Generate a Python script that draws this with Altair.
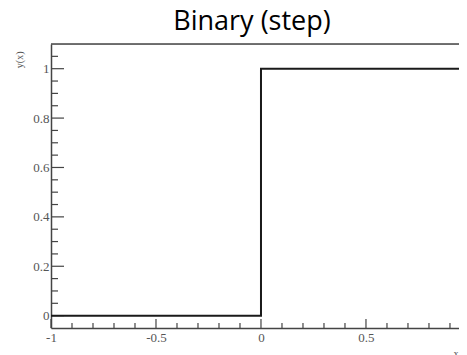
import altair as alt
import pandas as pd

# step function data
step_x = [-1.0, 0.0, 1.0]
step_y = [0.0, 1.0, 1.0]

# tick values
x_major = [-1.0, -0.5, 0.0, 0.5]
x_minor = [-0.9, -0.8, -0.7, -0.6, -0.4, -0.3, -0.2, -0.1,
           0.1, 0.2, 0.3, 0.4, 0.6, 0.7, 0.8, 0.9]
y_major = [0.0, 0.2, 0.4, 0.6, 0.8, 1.0]
y_minor = [0.05, 0.1, 0.15, 0.25, 0.3, 0.35, 0.45, 0.5, 0.55, 0.65, 0.7, 0.75,
           0.85, 0.9, 0.95, 1.05]

x_domain = [-1.0, 0.943]
y_domain = [-0.05, 1.1]

W, H = 408, 284
AX = "#444444"
LBL = "#555555"

xscale = alt.Scale(domain=x_domain, nice=False, zero=False)
yscale = alt.Scale(domain=y_domain, nice=False, zero=False)

label_expr = "'' + datum.value"

step_df = pd.DataFrame({"x": step_x, "y": step_y})

line = alt.Chart(step_df).mark_line(
    interpolate="step-after", color="#1a1a1a", strokeWidth=2, clip=True
).encode(
    x=alt.X("x:Q", scale=xscale,
            axis=alt.Axis(values=x_major, ticks=False, grid=False, domain=True,
                          domainColor=AX, domainWidth=1.5, labelExpr=label_expr,
                          labelFont="Liberation Serif", labelFontSize=13,
                          labelColor=LBL, labelPadding=3, labelFlush=False,
                          title="x", titleFont="Liberation Serif", titleFontSize=10,
                          titleFontWeight="normal", titleColor=LBL,
                          titleAnchor="end", titleAlign="right",
                          titleX=W - 1, titleY=28, titleBaseline="alphabetic")),
    y=alt.Y("y:Q", scale=yscale,
            axis=alt.Axis(values=y_major, ticks=False, grid=False, domain=True,
                          domainColor=AX, domainWidth=1.5, labelExpr=label_expr,
                          labelFont="Liberation Serif", labelFontSize=13,
                          labelColor=LBL, labelPadding=2, labelFlush=False,
                          title="y(x)", titleFont="Liberation Serif", titleFontSize=10,
                          titleFontWeight="normal", titleColor=LBL,
                          titleAnchor="end", titleAlign="right", titleAngle=-90,
                          titleX=-29, titleY=7, titleBaseline="alphabetic")),
)

def yticks(vals, length):
    return alt.Chart(pd.DataFrame({"v": vals})).mark_rule(
        color=AX, strokeWidth=1.2
    ).encode(
        y=alt.Y("v:Q", scale=yscale),
        x=alt.value(0), x2=alt.value(length),
    )

def xticks(vals, length):
    return alt.Chart(pd.DataFrame({"v": vals})).mark_rule(
        color=AX, strokeWidth=1.2
    ).encode(
        x=alt.X("v:Q", scale=xscale),
        y=alt.value(H), y2=alt.value(H - length),
    )

top_frame = alt.Chart(pd.DataFrame({"v": [y_domain[1]]})).mark_rule(
    color=AX, strokeWidth=1.5
).encode(
    y=alt.Y("v:Q", scale=yscale),
    x=alt.value(0), x2=alt.value(W),
)

chart = alt.layer(
    top_frame,
    yticks(y_major, 13), yticks(y_minor, 7),
    xticks(x_major, 9), xticks(x_minor, 5),
    line,
).properties(
    width=W, height=H,
    autosize=alt.AutoSizeParams(type="none"),
    padding={"left": 43, "top": 36, "right": 0, "bottom": 27},
    title=alt.TitleParams("Binary (step)", font="Open Sans", fontSize=27,
                          fontWeight="normal", color="black", anchor="middle",
                          dx=-3, offset=-14, baseline="alphabetic"),
).configure_view(stroke=None).configure(background="white")

chart.save("out.html", embed_options={"renderer": "svg", "actions": False})
